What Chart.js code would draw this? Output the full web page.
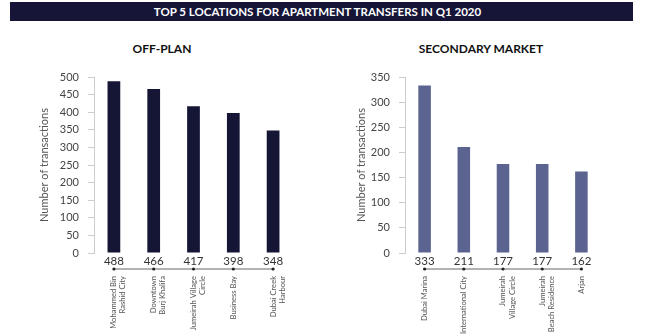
<!DOCTYPE html>
<html>
<head>
<meta charset="utf-8">
<script src="https://cdn.jsdelivr.net/npm/chart.js@4/dist/chart.umd.min.js"></script>
<style>
  body { margin: 0; background: #fff; width: 645px; height: 336px; position: relative; overflow: hidden; font-family: Lato, "Open Sans", sans-serif; }
  #banner { position: absolute; left: 10px; top: 2px; width: 623px; height: 19px; background: #161538;
            color: #fff; font-weight: bold; font-size: 11.5px; text-align: center; line-height: 19px; text-indent: -8px; }
  .sub { position: absolute; top: 41px; font-weight: bold; font-size: 12px; color: #111; text-align: center; width: 200px; }
  .box { position: absolute; top: 0; height: 336px; }
</style>
</head>
<body>
<div id="banner">TOP 5 LOCATIONS FOR APARTMENT TRANSFERS IN Q1 2020</div>
<div class="sub" style="left:62px">OFF-PLAN</div>
<div class="sub" style="left:381px">SECONDARY MARKET</div>
<div class="box" style="left:0;width:322px"><canvas id="chart-offplan"></canvas></div>
<div class="box" style="left:322px;width:323px"><canvas id="chart-secondary"></canvas></div>
<script>
// Dados
const offPlanLocations = [['Mohammed Bin', 'Rashid City'], ['Downtown', 'Burj Khalifa'], ['Jumeirah Village', 'Circle'], ['Business Bay'], ['Dubai Creek', 'Harbour']];
const offPlanValues = [488, 466, 417, 398, 348];
const offPlanTicks = [0, 50, 100, 150, 200, 250, 300, 350, 400, 450, 500];

const secondaryLocations = [['Dubai Marina'], ['International City'], ['Jumeirah', 'Village Circle'], ['Jumeirah', 'Beach Residence'], ['Arjan']];
const secondaryValues = [333, 211, 177, 177, 162];
const secondaryTicks = [0, 50, 100, 150, 200, 250, 300, 350];

Chart.defaults.font.family = 'Lato, "Open Sans", sans-serif';

// Plugin: valores abaixo das barras + linha com pontos
const bottomValues = {
    id: 'bottomValues',
    afterDraw(chart) {
        const ctx = chart.ctx;
        const x = chart.scales.x;
        const bottom = chart.chartArea.bottom;
        const vals = chart.data.datasets[0].data;
        ctx.save();
        ctx.fillStyle = '#333';
        ctx.font = '11.5px Lato, "Open Sans", sans-serif';
        ctx.textAlign = 'center';
        ctx.textBaseline = 'middle';
        vals.forEach((v, i) => ctx.fillText(v, x.getPixelForValue(i), bottom + 8));
        const ly = bottom + 16;
        ctx.strokeStyle = '#666';
        ctx.lineWidth = 1;
        ctx.beginPath();
        ctx.moveTo(x.getPixelForValue(0), ly);
        ctx.lineTo(x.getPixelForValue(vals.length - 1), ly);
        ctx.stroke();
        ctx.fillStyle = '#222';
        vals.forEach((v, i) => {
            ctx.beginPath();
            ctx.arc(x.getPixelForValue(i), ly, 1.6, 0, Math.PI * 2);
            ctx.fill();
        });
        ctx.restore();
    }
};

function makeChart(id, labels, values, ticks, color, padLeft, yWidth, padRight) {
    return new Chart(document.getElementById(id), {
        type: 'bar',
        data: {
            labels: labels,
            datasets: [{ data: values, backgroundColor: color, barPercentage: 0.32, categoryPercentage: 1 }]
        },
        options: {
            responsive: true,
            maintainAspectRatio: false,
            animation: false,
            layout: { padding: { top: 77, right: padRight, bottom: 0, left: padLeft } },
            plugins: { legend: { display: false }, tooltip: { enabled: false } },
            scales: {
                x: {
                    grid: { display: false },
                    border: { display: false },
                    ticks: { color: '#555', font: { size: 7.6 }, minRotation: 90, maxRotation: 90, padding: 15, autoSkip: false },
                    afterFit: (s) => { s.height = 83; }
                },
                y: {
                    min: 0,
                    max: ticks[ticks.length - 1],
                    afterBuildTicks: (s) => { s.ticks = ticks.map(v => ({ value: v })); },
                    grid: { drawOnChartArea: false, drawTicks: true, tickLength: 6, color: '#ccc' },
                    border: { display: true, color: '#ccc' },
                    ticks: { color: '#444', font: { size: 11 }, padding: 9 },
                    title: { display: true, text: 'Number of transactions', color: '#555', font: { size: 11 }, padding: 0 },
                    afterFit: (s) => { s.width = yWidth; }
                }
            }
        },
        plugins: [bottomValues]
    });
}

makeChart('chart-offplan', offPlanLocations, offPlanValues, offPlanTicks, '#151535', 38, 56, 29);
makeChart('chart-secondary', secondaryLocations, secondaryValues, secondaryTicks, '#5b6491', 33, 50, 44);
</script>
</body>
</html>
